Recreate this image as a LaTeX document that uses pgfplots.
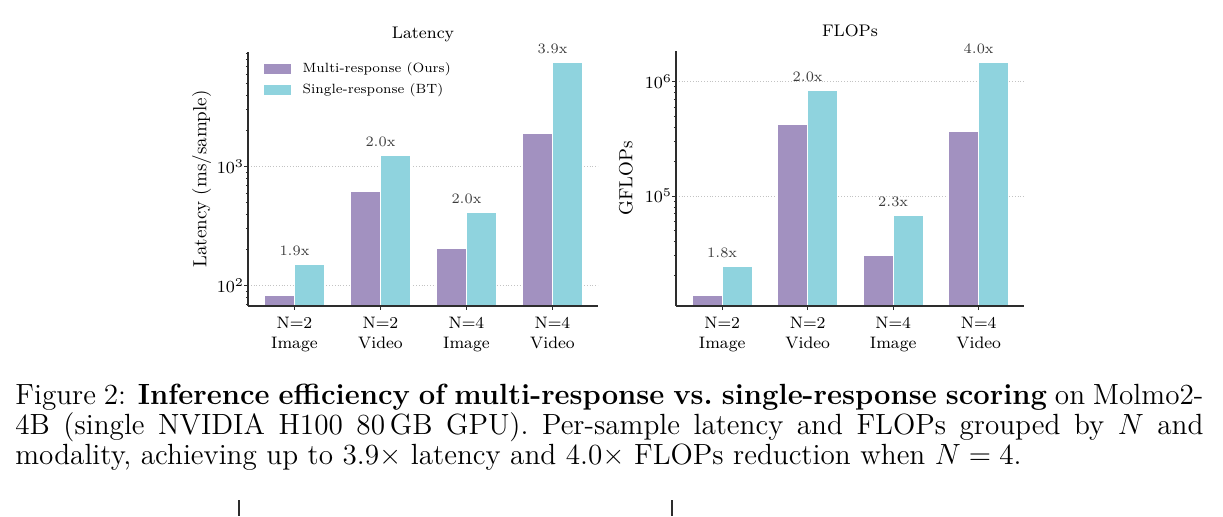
\RequirePackage{fix-cm}
\documentclass[border=0pt]{standalone}
\usepackage{pgfplots}
\usepackage{pgfplotstable}
\pgfplotsset{compat=1.18}

\definecolor{multi}{RGB}{162,145,192}
\definecolor{single}{RGB}{143,211,222}
\definecolor{spine}{RGB}{45,45,45}
\definecolor{ann}{RGB}{60,60,60}
\definecolor{gridc}{RGB}{195,195,195}

% per-sample latency (ms/sample); ratio = single / multi
\pgfplotstableread{
x multi single ratio
0 82   151  1.9
1 621  1247 2.0
2 206  414  2.0
3 1910 7480 3.9
}\latency

% GFLOPs per sample
\pgfplotstableread{
x multi  single  ratio
0 13430  24060   1.8
1 424000 834000  2.0
2 30050  68200   2.3
3 370600 1466000 4.0
}\flops

\pgfplotsset{
  ratio labels/.style={
    nodes near coords={\pgfmathprintnumber[fixed,fixed zerofill,precision=1]{\pgfplotspointmeta}x},
    point meta=explicit,
    nodes near coords style={font=\fontsize{7.2}{8}\selectfont, text=ann, anchor=base, xshift=-7.5pt, yshift=4.5pt},
  },
  patch legend/.style={
    legend image code/.code={\fill[##1] (0pt,-2.6pt) rectangle (14pt,2.6pt);},
  },
}

\begin{document}
\begin{tikzpicture}
\useasboundingbox (0,0) rectangle (611.5pt,-258pt);

% ---------- latency ----------
\begin{axis}[
  at={(124pt,-153pt)}, anchor=south west,
  scale only axis, width=175pt, height=127pt,
  ymode=log,
  xmin=-0.54, xmax=3.53,
  ymin=67.5, ymax=9200,
  axis lines=left,
  axis line style={-, draw=spine, line width=0.6pt},
  tick style={draw=spine, line width=0.5pt},
  tick align=outside,
  major tick length=2pt, minor tick length=1.1pt,
  xtick={0,1,2,3},
  xticklabels={N=2\\Image, N=2\\Video, N=4\\Image, N=4\\Video},
  xticklabel style={align=center, font=\fontsize{8.3}{10}\selectfont},
  yticklabel style={font=\fontsize{8.5}{9}\selectfont, xshift=3.5pt},
  ymajorgrids,
  major grid style={densely dotted, gridc, line width=0.4pt},
  title={Latency},
  title style={font=\fontsize{8.4}{10}\selectfont, at={(0.5,1)}, anchor=base, yshift=1pt},
  ylabel={Latency (ms/sample)},
  ylabel style={font=\fontsize{9.5}{11}\selectfont, at={(axis description cs:0,0.5)}, anchor=center, yshift=23.2pt},
  ybar, bar width=0.35,
  legend style={draw=none, fill=none, at={(0.042,0.964)}, anchor=north west, inner sep=0pt,
    font=\fontsize{6.7}{8}\selectfont, row sep=3pt,
    nodes={inner xsep=5.3pt, inner ysep=0.5pt}},
  legend cell align=left,
]
\addplot[fill=multi, draw=white, line width=0.5pt, bar shift=-0.175, patch legend] table[x=x, y=multi] {\latency};
\addplot[fill=single, draw=white, line width=0.5pt, bar shift=0.175, patch legend, ratio labels] table[x=x, y=single, meta=ratio] {\latency};
\legend{Multi-response (Ours), Single-response (BT)}
\draw[spine, line width=0.6pt] (rel axis cs:0,0) -- (rel axis cs:1,0);
\end{axis}

% ---------- FLOPs ----------
\begin{axis}[
  at={(338pt,-153pt)}, anchor=south west,
  scale only axis, width=174pt, height=127.5pt,
  ymode=log,
  xmin=-0.54, xmax=3.53,
  ymin=10900, ymax=1.86e6,
  axis lines=left,
  axis line style={-, draw=spine, line width=0.6pt},
  tick style={draw=spine, line width=0.5pt},
  tick align=outside,
  major tick length=2pt, minor tick length=1.1pt,
  xtick={0,1,2,3},
  xticklabels={N=2\\Image, N=2\\Video, N=4\\Image, N=4\\Video},
  xticklabel style={align=center, font=\fontsize{8.3}{10}\selectfont},
  yticklabel style={font=\fontsize{8.5}{9}\selectfont, xshift=3.5pt},
  ymajorgrids,
  major grid style={densely dotted, gridc, line width=0.4pt},
  title={FLOPs},
  title style={font=\fontsize{8.4}{10}\selectfont, at={(0.5,1)}, anchor=base, yshift=1pt},
  ylabel={GFLOPs},
  ylabel style={font=\fontsize{9.5}{11}\selectfont, at={(axis description cs:0,0.5)}, anchor=center, yshift=25pt},
  ybar, bar width=0.35,
]
\addplot[fill=multi, draw=white, line width=0.5pt, bar shift=-0.175] table[x=x, y=multi] {\flops};
\addplot[fill=single, draw=white, line width=0.5pt, bar shift=0.175, ratio labels] table[x=x, y=single, meta=ratio] {\flops};
\draw[spine, line width=0.6pt] (rel axis cs:0,0) -- (rel axis cs:1,0);
\end{axis}

% ---------- caption ----------
\begin{scope}[every node/.style={anchor=base west, inner sep=0pt, text height=9.5pt, text depth=2.5pt,
    font=\fontsize{14.6}{15}\selectfont}]
\node at (7.5pt,-202pt) {\makebox[594pt][s]{Figure 2: \textbf{Inference efficiency of multi-response vs.\ single-response scoring} on Molmo2-}};
\node at (7.5pt,-217pt) {\makebox[594pt][s]{4B (single NVIDIA H100 80\,GB GPU). Per-sample latency and FLOPs grouped by $N$ and}};
\node at (7.5pt,-232pt) {modality, achieving up to 3.9× latency and 4.0× FLOPs reduction when $N=4$.};
\end{scope}

% top edge of the following figure
\draw[spine, line width=0.6pt] (119.5pt,-250pt) -- (119.5pt,-258pt);
\draw[spine, line width=0.6pt] (336pt,-250pt) -- (336pt,-258pt);
\end{tikzpicture}
\end{document}
